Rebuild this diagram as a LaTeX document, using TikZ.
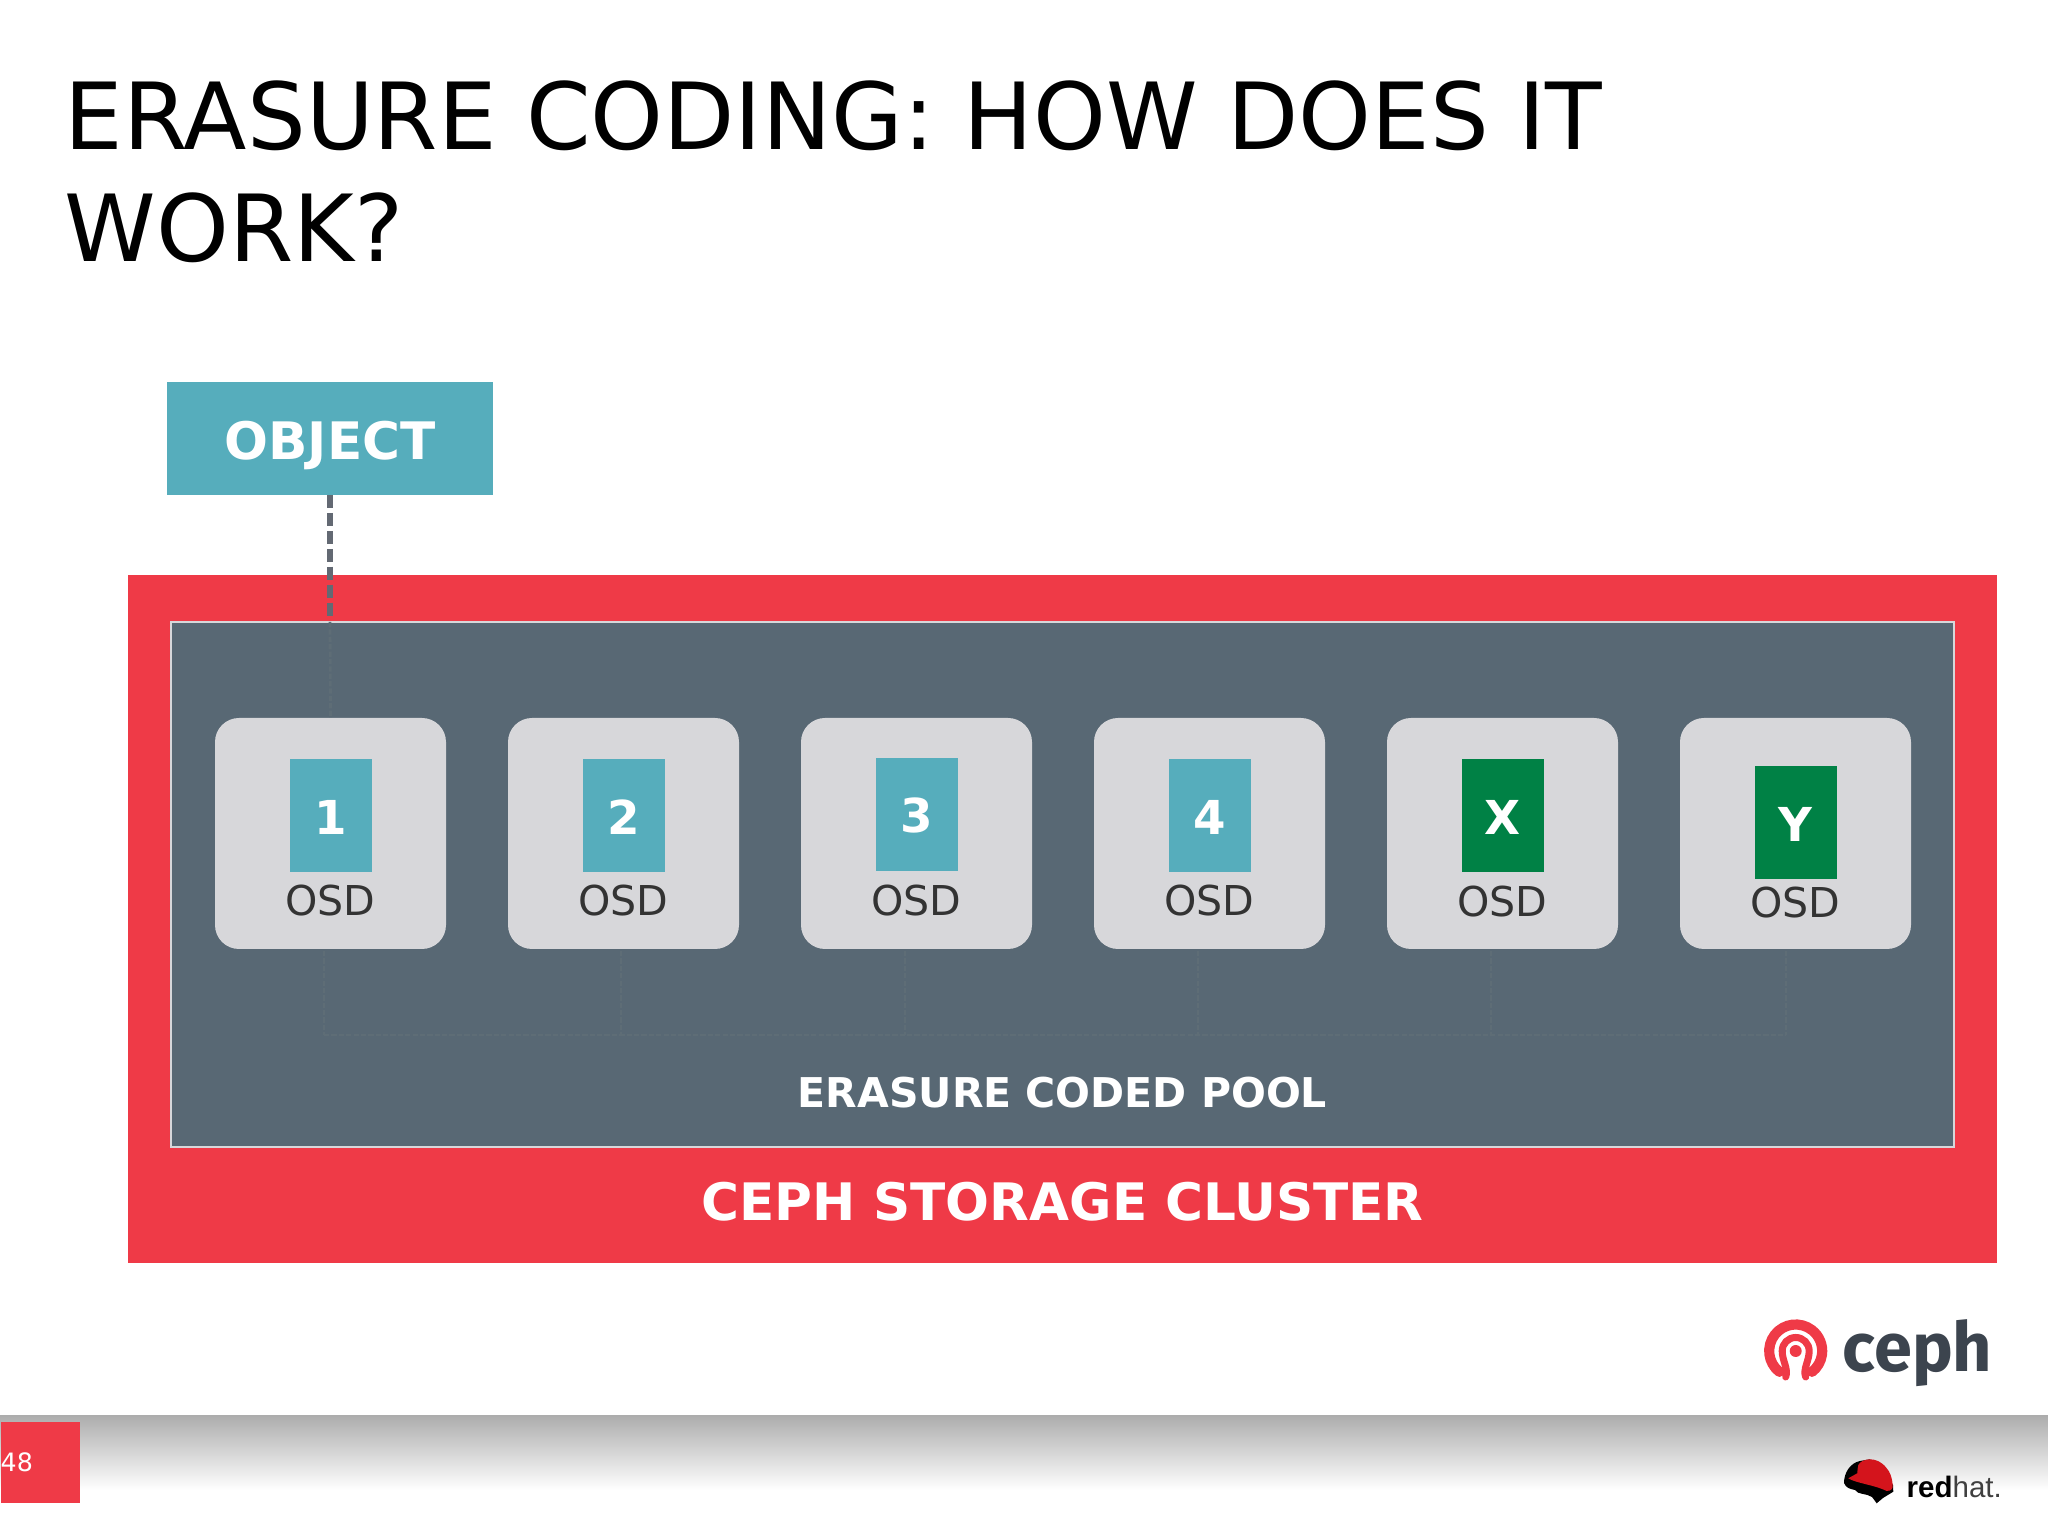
\documentclass[tikz,border=0pt]{standalone}
\usepackage{fontspec}
\setmainfont{DejaVu Sans}
\newfontfamily\cephfont{Fira Sans}
\newfontfamily\hatfont{Liberation Sans}
\usetikzlibrary{positioning}
\definecolor{cephred}{HTML}{EF3A47}
\definecolor{slategrey}{HTML}{586874}
\definecolor{paleslate}{HTML}{5E6D76}
\definecolor{osdgrey}{HTML}{D7D7DA}
\definecolor{tealblock}{HTML}{56ADBC}
\definecolor{greenblock}{HTML}{008145}
\definecolor{linegrey}{HTML}{636973}
\definecolor{logoink}{HTML}{3C444E}
\definecolor{hatred}{HTML}{D4141C}

\begin{document}
\begin{tikzpicture}[node distance=0.62cm]
  \tikzset{
    cluster/.style={fill=cephred, inner sep=0pt, outer sep=0pt, minimum width=18.69cm, minimum height=6.88cm},
    pool/.style={fill=slategrey, draw=osdgrey, line width=0.6pt, inner sep=0pt, outer sep=0pt, minimum width=17.83cm, minimum height=5.25cm},
    object/.style={fill=tealblock, text=white, font=\fontsize{14.7}{17}\bfseries\selectfont, text height=0.42cm, text depth=0pt, inner sep=0pt, outer sep=0pt, minimum width=3.26cm, minimum height=1.13cm},
    osdbox/.style={fill=osdgrey, rounded corners=0.24cm, inner sep=0pt, outer sep=0pt, minimum width=2.31cm, minimum height=2.31cm},
    datablock/.style={fill=tealblock, text=white, font=\fontsize{13.3}{16}\bfseries\selectfont, text height=0.37cm, text depth=0pt, inner sep=0pt, outer sep=0pt, minimum width=0.82cm, minimum height=1.13cm},
    codingblock/.style={datablock, fill=greenblock},
    osdlabel/.style={text=black!80, font=\fontsize{11.7}{14}\selectfont, inner sep=0pt, outer sep=0pt},
    banner/.style={text=white, font=\fontsize{14.7}{18}\bfseries\selectfont, inner sep=0pt},
    poollabel/.style={text=white, font=\fontsize{11.67}{14}\bfseries\selectfont, inner sep=0pt},
    objline/.style={linegrey, line width=1.6pt, dash pattern=on 3.7pt off 1.4pt},
    faintline/.style={paleslate, line width=0.8pt, dash pattern=on 1.5pt off 0.6pt},
    cephring/.style={cephred, line cap=round},
  }
  \useasboundingbox (0,0) rectangle (20.48,15.35);

  \node[anchor=north west, align=left, inner sep=0pt, font=\fontsize{26.35}{31.8}\selectfont] (title) at (0.64,14.55) {ERASURE CODING: HOW DOES IT\\WORK?};

  \node[object] (obj) at (3.30,10.965) {OBJECT};
  \node[cluster] (ceph) at (10.625,6.16) {};
  \node[pool] (ecpool) at (10.625,6.505) {};

  \node[osdbox] (osd1) at (3.305,7.015) {};
  \node[osdbox, right=of osd1] (osd2) {};
  \node[osdbox, right=of osd2] (osd3) {};
  \node[osdbox, right=of osd3] (osd4) {};
  \node[osdbox, right=of osd4] (osdx) {};
  \node[osdbox, right=of osdx] (osdy) {};

  \node[datablock, below=0.415cm of osd1.north] (blk1) {1};
  \node[datablock, below=0.415cm of osd2.north] (blk2) {2};
  \node[datablock, below=0.40cm of osd3.north] (blk3) {3};
  \node[datablock, below=0.415cm of osd4.north] (blk4) {4};
  \node[codingblock, below=0.415cm of osdx.north] (blkx) {X};
  \node[codingblock, below=0.485cm of osdy.north] (blky) {Y};

  \node[osdlabel, below=0.12cm of blk1] (lbl1) {OSD};
  \node[osdlabel, below=0.12cm of blk2] (lbl2) {OSD};
  \node[osdlabel, below=0.135cm of blk3] (lbl3) {OSD};
  \node[osdlabel, below=0.12cm of blk4] (lbl4) {OSD};
  \node[osdlabel, below=0.13cm of blkx] (lblx) {OSD};
  \node[osdlabel, below=0.07cm of blky] (lbly) {OSD};

  \node[poollabel] (poolname) at (10.625,4.42) {ERASURE CODED POOL};
  \node[banner] (clustername) at (10.625,3.335) {CEPH STORAGE CLUSTER};

  \coordinate (tap1) at (3.24,5.84);
  \coordinate (tap2) at (6.21,5.84);
  \coordinate (tap3) at (9.05,5.84);
  \coordinate (tap4) at (11.98,5.84);
  \coordinate (tapx) at (14.91,5.84);
  \coordinate (tapy) at (17.86,5.84);
  \coordinate (bus1) at (3.24,5.00);
  \coordinate (busy) at (17.86,5.00);

  \draw[objline] (obj.south) -- ([yshift=0.04cm]obj.south |- ecpool.north);
  \draw[faintline] (obj.south |- ecpool.north) -- (osd1.north);
  \draw[faintline] (tap1) -- (bus1);
  \draw[faintline] (tap2) -- (tap2 |- bus1);
  \draw[faintline] (tap3) -- (tap3 |- bus1);
  \draw[faintline] (tap4) -- (tap4 |- bus1);
  \draw[faintline] (tapx) -- (tapx |- bus1);
  \draw[faintline] (tapy) -- (busy);
  \draw[faintline] (bus1) -- (busy);

  \shade[top color=black!32, bottom color=white] (0,1.19) rectangle (20.48,0.45);
  \node[fill=cephred, inner sep=0pt, minimum width=0.79cm, minimum height=0.81cm, anchor=north west] (pagebox) at (0,1.14) {};
  \node[text=white, font=\fontsize{7.2}{9}\selectfont, inner sep=0pt, anchor=west] (pageno) at (0,0.73) {48};

  \coordinate (cephlogo) at (17.957,1.84);
  \draw[cephring, line width=2.9pt] ([shift={(232:0.265)}]cephlogo) arc[start angle=232, end angle=-52, radius=0.265];
  \draw[cephring, line width=2pt] ([shift={(-0.10,-0.26)}]cephlogo) .. controls ([shift={(-0.07,-0.18)}]cephlogo) and ([shift={(-0.135,-0.10)}]cephlogo) .. ([shift={(-0.135,0)}]cephlogo) arc[start angle=180, end angle=0, radius=0.135] .. controls ([shift={(0.135,-0.10)}]cephlogo) and ([shift={(0.07,-0.18)}]cephlogo) .. ([shift={(0.10,-0.26)}]cephlogo);
  \fill[cephred] (cephlogo) circle (0.06);
  \node[anchor=base west, inner sep=0pt, text=logoink, font=\fontsize{19.5}{24}\bfseries\cephfont] (cephword) at (18.42,1.63) {ceph};

  \fill[black] (18.44,0.52) .. controls (18.44,0.62) and (18.50,0.72) .. (18.60,0.74) -- (18.70,0.757) -- (18.93,0.50) -- (18.933,0.433) -- (18.83,0.37) -- (18.767,0.317) -- (18.72,0.38) .. controls (18.66,0.42) and (18.58,0.40) .. (18.55,0.45) .. controls (18.50,0.46) and (18.46,0.47) .. (18.44,0.52);
  \fill[hatred] (18.483,0.567) .. controls (18.55,0.52) and (18.75,0.50) .. (18.867,0.44) .. controls (18.92,0.44) and (18.93,0.47) .. (18.927,0.50) .. controls (18.92,0.58) and (18.90,0.63) .. (18.867,0.667) .. controls (18.82,0.73) and (18.76,0.757) .. (18.70,0.757) .. controls (18.64,0.757) and (18.60,0.73) .. (18.583,0.70) .. controls (18.57,0.67) and (18.58,0.64) .. (18.573,0.617) -- cycle;
  \node[anchor=base west, inner sep=0pt, font=\fontsize{8.4}{10}\hatfont] (hatword) at (19.06,0.37) {\textbf{red}\textcolor{black!75}{hat.}};
\end{tikzpicture}
\end{document}
